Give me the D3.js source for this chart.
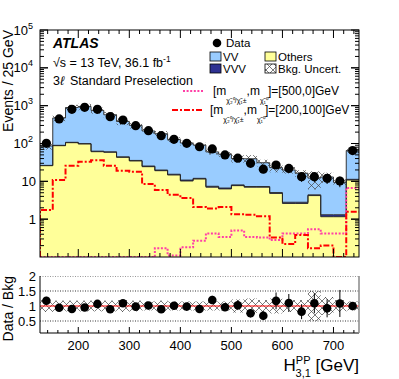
<!DOCTYPE html>
<html>
<head>
<meta charset="utf-8">
<script src="https://cdn.jsdelivr.net/npm/d3@7"></script>
<style>
  body { margin: 0; background: #fff; }
  text { font-family: "Liberation Sans", Arial, sans-serif; fill: #000; }
</style>
</head>
<body>
<script>
/*** chart data ***/
const binEdges = [125,150,175,200,225,250,275,300,325,350,375,400,425,450,475,500,525,550,575,600,625,650,675,700,725,750];
const dataVals = [101,445,802,906,802,511,418,296,218,161,129,101,82,72,50,41,30,21,27,22,13.3,13.3,12,10.2,65];
const dataErr  = [10,21,28,30,28,23,20,17,15,13,11,10,9,8.5,7,6.4,5.5,4.6,5.2,4.7,3.6,3.6,3.5,3.2,8];
const others   = [25.9,87.5,105,97,60.7,58.6,43,34.5,24.4,19.1,14.7,10.2,11.5,7,6.3,7.7,7,7,4.8,2.6,2.6,4.2,1.16,1.16,10.8];
const vvv      = [0.5,2,2.5,2.5,2,1.8,1.5,1.2,1,0.8,0.7,0.6,0.5,0.4,0.35,0.35,0.3,0.3,0.25,0.2,0.2,0.2,0.15,0.15,0.5];
const vv       = [59.6,383.5,783.5,854.5,687.3,513.6,338.5,266.3,188.6,161.1,112.6,92.2,79,52.6,45.4,32,32.2,23.7,18,17.2,13.6,7.8,11.7,8.1,53.7];
const bkgUnc   = [0.2,0.18,0.18,0.18,0.18,0.18,0.2,0.18,0.15,0.18,0.15,0.15,0.15,0.15,0.15,0.22,0.25,0.2,0.25,0.2,0.2,0.5,0.3,0.2,0.15];
const sig500_0   = [0,0,0,0,0,0,0,0,0,0.17,0.11,0.18,0.27,0.42,0.34,0.5,0.34,0.33,0.28,0.42,0.42,0.54,0.42,0.42,6.7];
const sig200_100 = [1.75,10.8,26,33,36,26,19,18,8.5,5.9,4.4,3.6,2.1,1.9,2.1,1.35,1.3,1.2,0.33,0.22,0.38,0.17,0.2,0.1,1.57];
const ratioErr = [0.13,0.05,0.04,0.04,0.04,0.05,0.06,0.06,0.07,0.08,0.09,0.1,0.1,0.14,0.13,0.16,0.14,0.15,0.28,0.3,0.25,0.33,0.3,0.45,0.13];
const xTicks = [200,300,400,500,600,700];
const yTicks = [1,10,100,1000,10000,100000];
const yTickLabels = [["1",""],["10",""],["10","2"],["10","3"],["10","4"],["10","5"]];
const rTicks = [0.5,1,1.5,2];
const rTickLabels = ["0.5","1","1.5","2"];

/*** layout ***/
const width = 399, height = 379;
const padL = 40, padR = 359, padT = 30, mainBottom = 257, rTop = 276, rBottom = 333;

const x = d3.scaleLinear().domain([125, 750]).range([padL, padR]);
const y = d3.scaleLog().domain([0.1, 1e5]).range([mainBottom, padT]).clamp(true);
const yr = d3.scaleLinear().domain([0.1, 2]).range([rBottom, rTop]).clamp(true);

const bins = dataVals.map((d, i) => {
  const oth = others[i], v3 = vvv[i], v2 = vv[i];
  const tot = oth + v3 + v2;
  return {
    i, x0: binEdges[i], x1: binEdges[i + 1], xc: (binEdges[i] + binEdges[i + 1]) / 2,
    data: d, err: dataErr[i], oth, v3, tot, unc: bkgUnc[i],
    s1: sig500_0[i], s2: sig200_100[i], ratio: d / tot, rerr: ratioErr[i]
  };
});

const svg = d3.select('body').append('svg')
  .attr('width', width).attr('height', height)
  .attr('viewBox', [0, 0, width, height]);

svg.append('rect').attr('width', width).attr('height', height).attr('fill', '#fff');

const defs = svg.append('defs');
defs.append('pattern').attr('id', 'hatch')
  .attr('patternUnits', 'userSpaceOnUse').attr('width', 7).attr('height', 7)
  .append('path').attr('d', 'M0,0L7,7M7,0L0,7M-1,6L1,8M6,-1L8,1')
  .attr('stroke', '#444').attr('stroke-width', 0.7).attr('fill', 'none');
defs.append('clipPath').attr('id', 'clipMain')
  .append('rect').attr('x', padL).attr('y', padT).attr('width', padR - padL).attr('height', mainBottom - padT);
defs.append('clipPath').attr('id', 'clipRatio')
  .append('rect').attr('x', padL).attr('y', rTop).attr('width', padR - padL).attr('height', rBottom - rTop);

/*** helpers ***/
function steps(lo, hi) {
  const pts = [];
  bins.forEach(b => {
    pts.push({ x: b.x0, lo: lo(b), hi: hi(b) });
    pts.push({ x: b.x1, lo: lo(b), hi: hi(b) });
  });
  return pts;
}
const floor = 0.05;
const area = d3.area().x(d => x(d.x)).y0(d => y(Math.max(d.lo, floor))).y1(d => y(Math.max(d.hi, floor)));
const topLine = d3.line().x(d => x(d.x)).y(d => y(Math.max(d.hi, floor)));

/*** main panel ***/
const g = svg.append('g').attr('clip-path', 'url(#clipMain)');

const layers = [
  { lo: b => 0, hi: b => b.oth, fill: '#ffff99' },
  { lo: b => b.oth, hi: b => b.oth + b.v3, fill: '#2e3192' },
  { lo: b => b.oth + b.v3, hi: b => b.tot, fill: '#99ccff' }
];
layers.forEach(l => {
  g.append('path').attr('d', area(steps(l.lo, l.hi))).attr('fill', l.fill);
});
layers.forEach(l => {
  g.append('path').attr('d', topLine(steps(l.lo, l.hi)))
    .attr('fill', 'none').attr('stroke', '#222').attr('stroke-width', 0.9);
});

// background uncertainty
g.selectAll('rect.unc').data(bins).join('rect').attr('class', 'unc')
  .attr('x', d => x(d.x0)).attr('width', d => x(d.x1) - x(d.x0))
  .attr('y', d => y(d.tot * (1 + d.unc)))
  .attr('height', d => y(d.tot * (1 - d.unc)) - y(d.tot * (1 + d.unc)))
  .attr('fill', 'url(#hatch)');

// signals
function sigPath(key) {
  const pts = [{ x: binEdges[0], hi: floor }].concat(steps(b => 0, b => b[key]));
  return topLine(pts);
}
g.append('path').attr('d', sigPath('s1'))
  .attr('fill', 'none').attr('stroke', '#ff3fa6').attr('stroke-width', 2)
  .attr('stroke-dasharray', '2,1.6');
g.append('path').attr('d', sigPath('s2'))
  .attr('fill', 'none').attr('stroke', '#ff0000').attr('stroke-width', 2)
  .attr('stroke-dasharray', '6,2,2,2');

// data
g.selectAll('line.err').data(bins).join('line').attr('class', 'err')
  .attr('x1', d => x(d.xc)).attr('x2', d => x(d.xc))
  .attr('y1', d => y(d.data + d.err)).attr('y2', d => y(Math.max(d.data - d.err, floor)))
  .attr('stroke', '#000').attr('stroke-width', 1);
g.selectAll('circle').data(bins).join('circle')
  .attr('cx', d => x(d.xc)).attr('cy', d => y(d.data)).attr('r', 4.6).attr('fill', '#000');

// frame + ticks
svg.append('rect').attr('x', padL).attr('y', padT).attr('width', padR - padL).attr('height', mainBottom - padT)
  .attr('fill', 'none').attr('stroke', '#000').attr('stroke-width', 1);

const tk = svg.append('g').attr('stroke', '#000').attr('stroke-width', 1);
const xMinor = d3.range(140, 750, 20);
xMinor.forEach(v => {
  const major = v % 100 === 0;
  const len = major ? 8 : 4;
  tk.append('line').attr('x1', x(v)).attr('x2', x(v)).attr('y1', mainBottom).attr('y2', mainBottom - len);
  tk.append('line').attr('x1', x(v)).attr('x2', x(v)).attr('y1', padT).attr('y2', padT + len);
  const rl = major ? 6 : 3;
  tk.append('line').attr('x1', x(v)).attr('x2', x(v)).attr('y1', rBottom).attr('y2', rBottom - rl);
});
[0.1, 1, 10, 100, 1000, 10000].forEach(dec => {
  d3.range(1, 10).forEach(m => {
    const v = dec * m;
    if (v <= 0.1 || v > 1e5) return;
    const len = m === 1 ? 8 : 4;
    tk.append('line').attr('x1', padL).attr('x2', padL + len).attr('y1', y(v)).attr('y2', y(v));
    tk.append('line').attr('x1', padR).attr('x2', padR - len).attr('y1', y(v)).attr('y2', y(v));
  });
});
yTicks.forEach(v => {
  tk.append('line').attr('x1', padL).attr('x2', padL + 8).attr('y1', y(v)).attr('y2', y(v));
  tk.append('line').attr('x1', padR).attr('x2', padR - 8).attr('y1', y(v)).attr('y2', y(v));
});

yTicks.forEach((v, i) => {
  const [base, sup] = yTickLabels[i];
  const t = svg.append('text').attr('x', sup ? 33 : 36).attr('y', y(v) + 4.5)
    .attr('text-anchor', 'end').attr('font-size', 13);
  t.append('tspan').text(base);
  if (sup) t.append('tspan').attr('dy', -6).attr('font-size', 9).text(sup);
});

svg.append('text').attr('transform', `translate(13,${padT}) rotate(-90)`)
  .attr('text-anchor', 'end').attr('font-size', 14).text('Events / 25 GeV');

// labels
svg.append('text').attr('x', 53).attr('y', 48).attr('font-size', 14)
  .attr('font-weight', 'bold').attr('font-style', 'italic').text('ATLAS');
const en = svg.append('text').attr('x', 53).attr('y', 67).attr('font-size', 12.5);
en.append('tspan').text('\u221As = 13 TeV, 36.1 fb');
en.append('tspan').attr('dy', -5).attr('font-size', 8.5).text('-1');
const sel = svg.append('text').attr('x', 53).attr('y', 85).attr('font-size', 12.5);
sel.append('tspan').text('3');
sel.append('tspan').attr('font-style', 'italic').text('\u2113');
sel.append('tspan').attr('dx', 6).text('Standard Preselection');

// legend
const lg = svg.append('g').attr('font-size', 11.5);
lg.append('circle').attr('cx', 217).attr('cy', 43).attr('r', 4.3).attr('fill', '#000');
lg.append('text').attr('x', 226).attr('y', 47).text('Data');
const boxes = [
  { x: 210, y: 52, fill: '#99ccff', label: 'VV' },
  { x: 210, y: 64, fill: '#2e3192', label: 'VVV' },
  { x: 265, y: 52, fill: '#ffff99', label: 'Others' },
  { x: 265, y: 64, fill: 'url(#hatch)', label: 'Bkg. Uncert.' }
];
boxes.forEach(b => {
  lg.append('rect').attr('x', b.x).attr('y', b.y).attr('width', 11).attr('height', 9)
    .attr('fill', b.fill).attr('stroke', '#000').attr('stroke-width', 0.8);
  lg.append('text').attr('x', b.x + 13).attr('y', b.y + 8.5).text(b.label);
});
const sigs = [
  { y: 91, color: '#ff3fa6', dash: '2,1.6', x0: 183, tx: 213, mass: '[500,0]GeV' },
  { y: 110, color: '#ff0000', dash: '6,2,2,2', x0: 172, tx: 210, mass: '[200,100]GeV' }
];
sigs.forEach(s => {
  lg.append('line').attr('x1', s.x0).attr('x2', 203).attr('y1', s.y).attr('y2', s.y)
    .attr('stroke', s.color).attr('stroke-width', 2).attr('stroke-dasharray', s.dash);
  const t = lg.append('text').attr('x', s.tx).attr('y', s.y + 4).attr('font-size', 12);
  t.append('tspan').text('[m');
  t.append('tspan').attr('dy', 8).attr('font-size', 7).text('\u03C7\u0303\u2082\u2070/\u03C7\u0303\u2081\u00B1');
  t.append('tspan').attr('dy', -8).text(',m');
  t.append('tspan').attr('dy', 8).attr('font-size', 7).text('\u03C7\u0303\u2081\u2070');
  t.append('tspan').attr('dy', -8).text(']=' + s.mass);
});

/*** ratio panel ***/
const gr = svg.append('g').attr('clip-path', 'url(#clipRatio)');
gr.selectAll('rect.unc').data(bins).join('rect').attr('class', 'unc')
  .attr('x', d => x(d.x0)).attr('width', d => x(d.x1) - x(d.x0))
  .attr('y', d => yr(1 + d.unc)).attr('height', d => yr(1 - d.unc) - yr(1 + d.unc))
  .attr('fill', 'url(#hatch)');
[0.5, 1.5, 2].forEach(v => {
  gr.append('line').attr('x1', padL).attr('x2', padR).attr('y1', yr(v)).attr('y2', yr(v))
    .attr('stroke', '#000').attr('stroke-width', 0.8).attr('stroke-dasharray', '1,1.5');
});
gr.append('line').attr('x1', padL).attr('x2', padR).attr('y1', yr(1)).attr('y2', yr(1))
  .attr('stroke', '#ff0000').attr('stroke-width', 1.2);
gr.selectAll('line.err').data(bins).join('line').attr('class', 'err')
  .attr('x1', d => x(d.xc)).attr('x2', d => x(d.xc))
  .attr('y1', d => yr(d.ratio + d.rerr)).attr('y2', d => yr(d.ratio - d.rerr))
  .attr('stroke', '#000').attr('stroke-width', 1);
gr.selectAll('circle').data(bins).join('circle')
  .attr('cx', d => x(d.xc)).attr('cy', d => yr(d.ratio)).attr('r', 4.3).attr('fill', '#000');

svg.append('line').attr('x1', padL).attr('x2', padL).attr('y1', rTop).attr('y2', rBottom).attr('stroke', '#000');
svg.append('line').attr('x1', padL).attr('x2', padR).attr('y1', rBottom).attr('y2', rBottom).attr('stroke', '#000');
svg.append('line').attr('x1', padR).attr('x2', padR).attr('y1', rTop).attr('y2', rBottom)
  .attr('stroke', '#888').attr('stroke-width', 1.5);

rTicks.forEach((v, i) => {
  svg.append('text').attr('x', 36).attr('y', yr(v) + 4.5).attr('text-anchor', 'end')
    .attr('font-size', 13).text(rTickLabels[i]);
});
svg.append('text').attr('transform', `translate(13,${rTop}) rotate(-90)`)
  .attr('text-anchor', 'end').attr('font-size', 14).text('Data / Bkg');

xTicks.forEach(v => {
  svg.append('text').attr('x', x(v)).attr('y', 350).attr('text-anchor', 'middle')
    .attr('font-size', 13).text(v);
});
const xt = svg.append('text').attr('x', padR).attr('y', 371).attr('text-anchor', 'end').attr('font-size', 17);
xt.append('tspan').text('H');
xt.append('tspan').attr('dy', -7).attr('font-size', 11).text('PP');
xt.append('tspan').attr('dx', -15).attr('dy', 13).attr('font-size', 11).text('3,1');
xt.append('tspan').attr('dy', -6).text(' [GeV]');
</script>
</body>
</html>
